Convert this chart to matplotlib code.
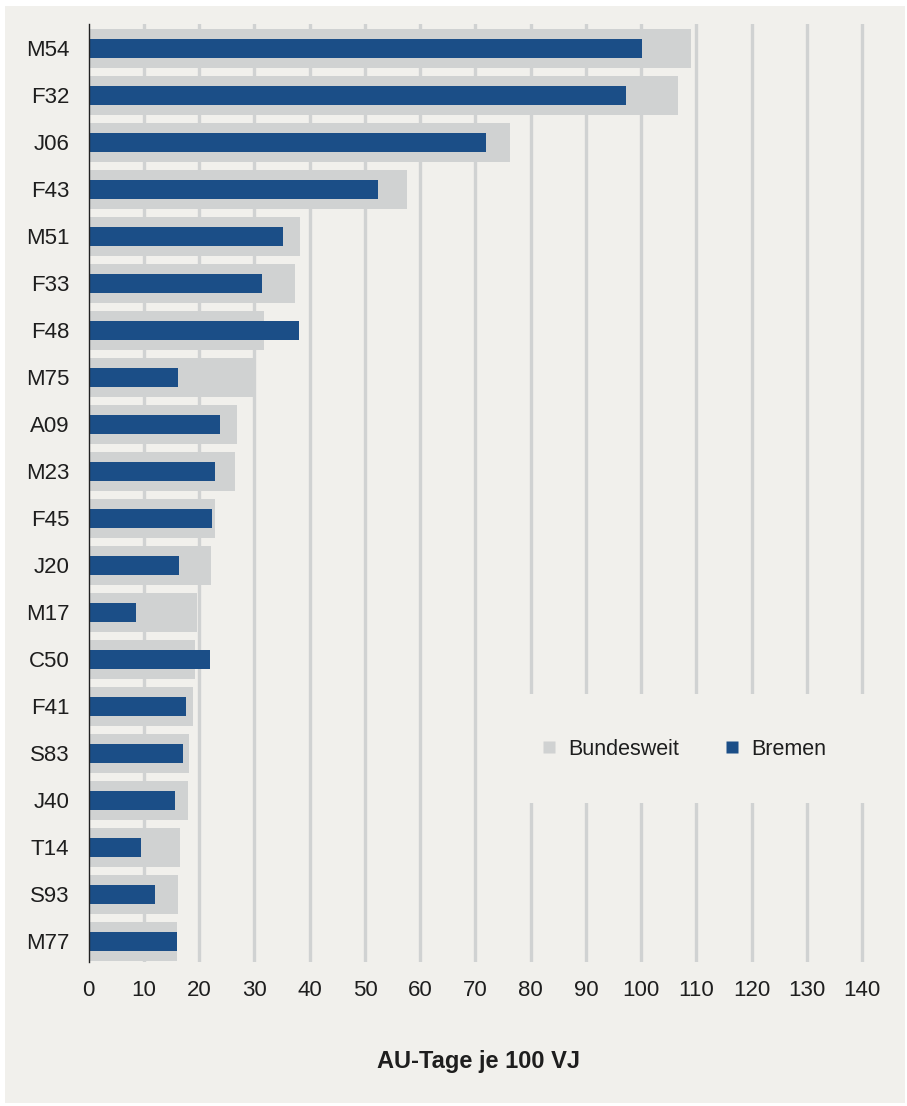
import matplotlib
matplotlib.use('Agg')
import matplotlib.pyplot as plt
from matplotlib.lines import Line2D
from matplotlib.patches import Rectangle
import numpy as np

# AU-Tage je 100 VJ nach Diagnose (ICD-10)
diagnoses = ['M54', 'F32', 'J06', 'F43', 'M51', 'F33', 'F48', 'M75', 'A09', 'M23',
             'F45', 'J20', 'M17', 'C50', 'F41', 'S83', 'J40', 'T14', 'S93', 'M77']
bundesweit = [109.0, 106.7, 76.3, 57.7, 38.3, 37.4, 31.8, 30.2, 26.9, 26.5,
              22.8, 22.2, 19.6, 19.3, 18.8, 18.1, 17.9, 16.6, 16.1, 15.9]
bremen = [100.2, 97.3, 71.9, 52.3, 35.1, 31.4, 38.0, 16.2, 23.7, 22.8,
          22.3, 16.3, 8.6, 21.9, 17.6, 17.0, 15.6, 9.5, 12.0, 16.0]
xticks = list(range(0, 141, 10))

BG = '#f1f0ec'
GREY = '#d0d2d2'
BLUE = '#1b4e87'
TEXT = '#1e1e1e'

plt.rcParams.update({
    'font.family': ['Liberation Sans', 'DejaVu Sans'],
    'font.size': 16,
})

fig = plt.figure(figsize=(9.07, 11.06), dpi=100, facecolor='white')
fig.patches.append(Rectangle((5 / 907, 3 / 1106), 900 / 907, 1097 / 1106,
                             transform=fig.transFigure, facecolor=BG,
                             edgecolor='none', zorder=-10))

ax = fig.add_axes([0.0979, 0.1302, 0.8586, 0.8481])
ax.set_facecolor(BG)

y = np.arange(len(diagnoses))

# vertical grid behind the bars
ax.vlines(xticks[1:], -1, len(diagnoses) + 1, color=GREY, linewidth=2.4, zorder=1)

# blank out the grid where the legend sits
ax.add_patch(Rectangle((0.554, 0.1695), 0.446, 0.1162, transform=ax.transAxes,
                       facecolor=BG, edgecolor='none', zorder=1.5))

ax.barh(y, bundesweit, height=0.82, color=GREY, zorder=2)
ax.barh(y, bremen, height=0.40, color=BLUE, zorder=3)

ax.set_ylim(len(diagnoses) - 0.56, -0.517)
ax.set_xlim(0, 141)
ax.set_xticks(xticks)
ax.set_yticks(y)
ax.set_yticklabels(diagnoses)
ax.tick_params(axis='both', length=0, colors=TEXT, labelsize=16)
ax.tick_params(axis='x', pad=13)
ax.tick_params(axis='y', pad=14)

for side in ['top', 'right', 'bottom']:
    ax.spines[side].set_visible(False)
ax.spines['left'].set_color('#222222')
ax.spines['left'].set_linewidth(1.0)
ax.spines['left'].set_zorder(4)

ax.set_xlabel('AU-Tage je 100 VJ', fontweight='bold', fontsize=17, color=TEXT)
ax.xaxis.set_label_coords(0.5, -0.1066)
ax.xaxis.label.set_va('center')

handles = [Line2D([], [], marker='s', linestyle='none', markersize=9,
                  markerfacecolor=GREY, markeredgecolor='none'),
           Line2D([], [], marker='s', linestyle='none', markersize=9,
                  markerfacecolor=BLUE, markeredgecolor='none')]
ax.legend(handles, ['Bundesweit', 'Bremen'], ncol=2, frameon=False,
          loc='center', bbox_to_anchor=(0.763, 0.227), fontsize=15.5,
          handlelength=0.8, handletextpad=0.5, columnspacing=2.05,
          labelcolor=TEXT)

fig.savefig('out.png', dpi=100, facecolor='white')
